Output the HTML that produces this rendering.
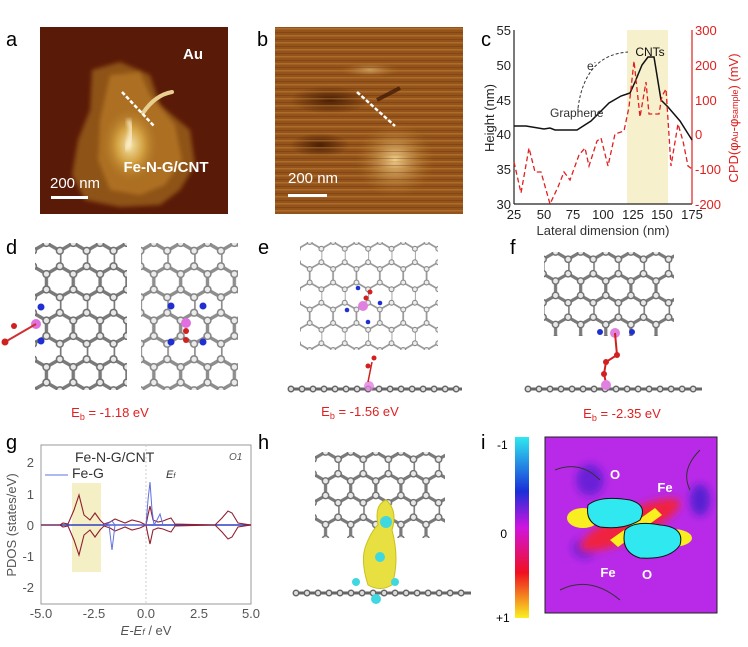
<!DOCTYPE html>
<html><head><meta charset="utf-8"><style>
body{margin:0;background:#fff;}
svg{display:block;font-family:"Liberation Sans",sans-serif;}
</style></head><body>
<svg width="748" height="647" viewBox="0 0 748 647" xmlns="http://www.w3.org/2000/svg">
<defs>
<pattern id="hc" width="17.32" height="30" patternUnits="userSpaceOnUse" patternTransform="translate(33,243) scale(1.55)">
<path d="M0,5 L8.66,0 L17.32,5 M0,5 L0,15 M0,15 L8.66,20 L17.32,15 M8.66,20 L8.66,30" stroke="#7a7a7a" stroke-width="2.2" fill="none"/>
<g fill="#e8e8e8" stroke="#707070" stroke-width="1"><circle cx="8.66" cy="0" r="2.2"/><circle cx="0" cy="5" r="2.2"/><circle cx="17.32" cy="5" r="2.2"/><circle cx="0" cy="15" r="2.2"/><circle cx="17.32" cy="15" r="2.2"/><circle cx="8.66" cy="20" r="2.2"/><circle cx="8.66" cy="30" r="2.2"/></g>
</pattern>
<pattern id="hc2" width="17.32" height="30" patternUnits="userSpaceOnUse" patternTransform="translate(543,252) scale(1.45)">
<path d="M0,5 L8.66,0 L17.32,5 M0,5 L0,15 M0,15 L8.66,20 L17.32,15 M8.66,20 L8.66,30" stroke="#7a7a7a" stroke-width="2.2" fill="none"/>
<g fill="#e8e8e8" stroke="#707070" stroke-width="1"><circle cx="8.66" cy="0" r="2.2"/><circle cx="0" cy="5" r="2.2"/><circle cx="17.32" cy="5" r="2.2"/><circle cx="0" cy="15" r="2.2"/><circle cx="17.32" cy="15" r="2.2"/><circle cx="8.66" cy="20" r="2.2"/><circle cx="8.66" cy="30" r="2.2"/></g>
</pattern>
<pattern id="hc3" width="17.32" height="30" patternUnits="userSpaceOnUse" patternTransform="translate(313,452) scale(1.45)">
<path d="M0,5 L8.66,0 L17.32,5 M0,5 L0,15 M0,15 L8.66,20 L17.32,15 M8.66,20 L8.66,30" stroke="#7a7a7a" stroke-width="2.2" fill="none"/>
<g fill="#e8e8e8" stroke="#707070" stroke-width="1"><circle cx="8.66" cy="0" r="2.2"/><circle cx="0" cy="5" r="2.2"/><circle cx="17.32" cy="5" r="2.2"/><circle cx="0" cy="15" r="2.2"/><circle cx="17.32" cy="15" r="2.2"/><circle cx="8.66" cy="20" r="2.2"/><circle cx="8.66" cy="30" r="2.2"/></g>
</pattern>
<pattern id="hcl" width="17.32" height="30" patternUnits="userSpaceOnUse" patternTransform="translate(298,242) scale(1.35)">
<path d="M0,5 L8.66,0 L17.32,5 M0,5 L0,15 M0,15 L8.66,20 L17.32,15 M8.66,20 L8.66,30" stroke="#999" stroke-width="1.3" fill="none"/>
<g fill="#eee" stroke="#888" stroke-width="0.8"><circle cx="8.66" cy="0" r="1.8"/><circle cx="0" cy="5" r="1.8"/><circle cx="17.32" cy="5" r="1.8"/><circle cx="0" cy="15" r="1.8"/><circle cx="17.32" cy="15" r="1.8"/><circle cx="8.66" cy="20" r="1.8"/><circle cx="8.66" cy="30" r="1.8"/></g>
</pattern>
<pattern id="lines" width="190" height="7" patternUnits="userSpaceOnUse">
<rect width="190" height="1.5" fill="#d09040" opacity="0.4"/><rect y="4" width="190" height="1" fill="#5a2a06" opacity="0.3"/>
</pattern>
<radialGradient id="ga" cx="0.5" cy="0.5" r="0.5"><stop offset="0" stop-color="#f4e2a8"/><stop offset="0.45" stop-color="#d2a040"/><stop offset="1" stop-color="#a86a20" stop-opacity="0"/></radialGradient>
<radialGradient id="gb" cx="0.5" cy="0.5" r="0.5"><stop offset="0" stop-color="#f0d090"/><stop offset="1" stop-color="#b07020" stop-opacity="0"/></radialGradient>
<radialGradient id="gd" cx="0.5" cy="0.5" r="0.5"><stop offset="0" stop-color="#4a1e04"/><stop offset="1" stop-color="#4a1e04" stop-opacity="0"/></radialGradient>
<linearGradient id="cb" x1="0" y1="0" x2="0" y2="1"><stop offset="0" stop-color="#2fe8f0"/><stop offset="0.3" stop-color="#1a2fd8"/><stop offset="0.5" stop-color="#d014e0"/><stop offset="0.75" stop-color="#f01020"/><stop offset="1" stop-color="#f8f020"/></linearGradient>
<filter id="bl"><feGaussianBlur stdDeviation="4"/></filter>
<filter id="bl2"><feGaussianBlur stdDeviation="2"/></filter>
</defs>

<!-- panel a -->
<text x="6" y="46" font-size="20">a</text>
<rect x="40" y="27" width="188" height="187" fill="#5a1a08"/>
<path d="M92,70 L120,62 L150,75 L160,105 L190,130 L195,165 L180,190 L160,205 L120,207 L85,200 L72,175 L78,140 L90,110 Z" fill="#8e5218" filter="url(#bl2)"/>
<path d="M110,75 L140,72 L150,95 L175,125 L182,160 L165,185 L140,195 L110,190 L98,160 L100,120 Z" fill="#ad7024" filter="url(#bl2)"/>
<ellipse cx="130" cy="145" rx="30" ry="40" fill="url(#ga)"/>
<path d="M126,150 Q135,130 128,120" stroke="#fff4d8" stroke-width="4" fill="none" filter="url(#bl2)"/>
<path d="M143,113 Q155,95 172,92" stroke="#e8cf90" stroke-width="4" fill="none" stroke-linecap="round"/>
<line x1="122" y1="92" x2="154" y2="126" stroke="#fff" stroke-width="2.5" stroke-dasharray="4,2"/>
<text x="193" y="59" font-size="15" font-weight="bold" fill="#fff" text-anchor="middle">Au</text>
<text x="166" y="172" font-size="15" font-weight="bold" fill="#fff" text-anchor="middle">Fe-N-G/CNT</text>
<text x="50" y="188" font-size="15" fill="#fff">200 nm</text>
<rect x="51" y="196" width="37" height="3" fill="#fff"/>

<!-- panel b -->
<text x="257" y="46" font-size="20">b</text>
<rect x="275" y="27" width="188" height="187" fill="#94531a"/>
<ellipse cx="330" cy="100" rx="40" ry="14" fill="url(#gd)"/>
<ellipse cx="320" cy="145" rx="30" ry="12" fill="url(#gd)"/>
<ellipse cx="395" cy="160" rx="40" ry="38" fill="url(#gb)"/>
<ellipse cx="370" cy="70" rx="30" ry="8" fill="url(#gb)" opacity="0.6"/>
<rect x="275" y="27" width="188" height="187" fill="url(#lines)"/>
<line x1="377" y1="100" x2="400" y2="88" stroke="#3a1404" stroke-width="4" opacity="0.7"/>
<line x1="357" y1="92" x2="395" y2="126" stroke="#fff" stroke-width="2.5" stroke-dasharray="4,2"/>
<text x="288" y="183" font-size="15" fill="#fff">200 nm</text>
<rect x="288" y="194" width="39" height="3" fill="#fff"/>

<!-- panel c -->
<text x="481" y="46" font-size="20">c</text>
<rect x="627" y="30" width="41" height="174" fill="#f6f0cc"/>
<line x1="514" y1="30" x2="514" y2="204" stroke="#222" stroke-width="1.2"/>
<line x1="514" y1="204" x2="692" y2="204" stroke="#222" stroke-width="1.2"/>
<line x1="692" y1="30" x2="692" y2="204" stroke="#e02020" stroke-width="1.2"/>
<g font-size="13" fill="#222" text-anchor="end">
<text x="511" y="35">55</text><text x="511" y="70">50</text><text x="511" y="105">45</text><text x="511" y="139">40</text><text x="511" y="174">35</text><text x="511" y="209">30</text>
</g>
<g font-size="13" fill="#e02020">
<text x="695" y="35">300</text><text x="695" y="70">200</text><text x="695" y="105">100</text><text x="695" y="139">0</text><text x="695" y="174">-100</text><text x="695" y="209">-200</text>
</g>
<g font-size="13" fill="#222" text-anchor="middle">
<text x="514" y="219">25</text><text x="544" y="219">50</text><text x="573" y="219">75</text><text x="603" y="219">100</text><text x="633" y="219">125</text><text x="662" y="219">150</text><text x="692" y="219">175</text>
</g>
<text x="603" y="235" font-size="13" fill="#333" text-anchor="middle">Lateral dimension (nm)</text>
<text transform="translate(494,118) rotate(-90)" font-size="13" fill="#222" text-anchor="middle">Height (nm)</text>
<text transform="translate(738,118) rotate(-90)" font-size="13" fill="#e02020" text-anchor="middle">CPD(φ<tspan font-size="9">Au</tspan>-φ<tspan font-size="9">sample</tspan>) (mV)</text>
<polyline fill="none" stroke="#111" stroke-width="1.5" points="514,126 526,126 544,129 550,128 555,130 577,130 591,121 603,109 609,103 621,96 630,93 635,82 642,65 648,57 654,57 661,100 668,107 680,121 692,140"/>
<polyline fill="none" stroke="#e02020" stroke-width="1.3" stroke-dasharray="5,3" points="514,162 521,193 529,148 535,172 541,172 550,204 558,187 564,172 570,180 579,155 585,148 589,166 597,141 601,138 608,166 615,134 624,131 629,107 634,61 640,117 646,82 649,114 654,114 659,114 662,96 666,89 671,166 678,124 683,141 688,166 692,169"/>
<path d="M578,108 Q585,55 628,52" fill="none" stroke="#333" stroke-width="1" stroke-dasharray="3,2"/>
<text x="587" y="70" font-size="12" fill="#333">e<tspan font-size="7" dy="-5">-</tspan></text>
<text x="650" y="56" font-size="12" fill="#111" text-anchor="middle">CNTs</text>
<text x="550" y="117" font-size="12" fill="#333">Graphene</text>

<!-- panel d -->
<text x="6" y="254" font-size="20">d</text>
<rect x="35" y="243" width="92" height="147" fill="url(#hc)"/>
<rect x="141" y="243" width="97" height="147" fill="url(#hc)" opacity="0.85"/>
<circle cx="36" cy="324" r="5" fill="#e070e0"/><circle cx="41" cy="307" r="3.5" fill="#2030d0"/><circle cx="41" cy="341" r="3.5" fill="#2030d0"/>
<line x1="36" y1="324" x2="5" y2="342" stroke="#d03030" stroke-width="2"/><circle cx="14" cy="326" r="3" fill="#d02020"/><circle cx="5" cy="342" r="3.5" fill="#d02020"/>
<circle cx="186" cy="323" r="5" fill="#e070e0"/><circle cx="171" cy="306" r="3.5" fill="#2030d0"/><circle cx="203" cy="306" r="3.5" fill="#2030d0"/><circle cx="171" cy="342" r="3.5" fill="#2030d0"/><circle cx="203" cy="342" r="3.5" fill="#2030d0"/>
<circle cx="186" cy="331" r="3" fill="#d02020"/><circle cx="186" cy="340" r="3" fill="#d02020"/>
<text x="110" y="417" font-size="13" fill="#e02020" text-anchor="middle">E<tspan font-size="9" dy="3">b</tspan><tspan dy="-3"> = -1.18 eV</tspan></text>

<!-- panel e -->
<text x="258" y="254" font-size="20">e</text>
<rect x="300" y="242" width="138" height="108" fill="url(#hcl)"/>
<circle cx="363" cy="306" r="5" fill="#e080e0"/><circle cx="366" cy="298" r="2.5" fill="#d02020"/><circle cx="370" cy="292" r="2.5" fill="#d02020"/>
<circle cx="358" cy="288" r="2.3" fill="#2030d0"/><circle cx="380" cy="303" r="2.3" fill="#2030d0"/><circle cx="347" cy="310" r="2.3" fill="#2030d0"/><circle cx="368" cy="322" r="2.3" fill="#2030d0"/>
<line x1="290" y1="389" x2="462" y2="389" stroke="#666" stroke-width="3"/>
<line x1="291" y1="389" x2="462" y2="389" stroke="#666" stroke-width="7" stroke-linecap="round" stroke-dasharray="0.01 11"/>
<line x1="291" y1="389" x2="462" y2="389" stroke="#ddd" stroke-width="4" stroke-linecap="round" stroke-dasharray="0.01 11"/>
<circle cx="369" cy="386" r="5" fill="#e080e0" opacity="0.8"/><line x1="368" y1="382" x2="372" y2="362" stroke="#d02020" stroke-width="1.5"/><circle cx="368" cy="366" r="2.5" fill="#d02020"/><circle cx="374" cy="358" r="2.5" fill="#d02020"/>
<text x="360" y="416" font-size="13" fill="#e02020" text-anchor="middle">E<tspan font-size="9" dy="3">b</tspan><tspan dy="-3"> = -1.56 eV</tspan></text>

<!-- panel f -->
<text x="510" y="254" font-size="20">f</text>
<rect x="544" y="252" width="130" height="84" fill="url(#hc2)"/>
<circle cx="615" cy="333" r="5" fill="#e080e0"/><circle cx="600" cy="332" r="3" fill="#2030d0"/><circle cx="632" cy="332" r="3" fill="#2030d0"/>
<polyline points="615,333 617,355 606,362 604,374 606,383" fill="none" stroke="#d02020" stroke-width="2"/>
<circle cx="617" cy="355" r="3" fill="#d02020"/><circle cx="606" cy="362" r="3" fill="#d02020"/><circle cx="604" cy="374" r="3" fill="#d02020"/>
<line x1="527" y1="389" x2="702" y2="389" stroke="#666" stroke-width="3"/>
<line x1="528" y1="389" x2="702" y2="389" stroke="#666" stroke-width="7" stroke-linecap="round" stroke-dasharray="0.01 11"/>
<line x1="528" y1="389" x2="702" y2="389" stroke="#ddd" stroke-width="4" stroke-linecap="round" stroke-dasharray="0.01 11"/>
<circle cx="606" cy="385" r="5" fill="#e080e0"/>
<text x="622" y="418" font-size="13" fill="#e02020" text-anchor="middle">E<tspan font-size="9" dy="3">b</tspan><tspan dy="-3"> = -2.35 eV</tspan></text>

<!-- panel g -->
<text x="6" y="449" font-size="20">g</text>
<rect x="72" y="483" width="29" height="89" fill="#f4efc4"/>
<rect x="41" y="445" width="210" height="159" fill="none" stroke="#999" stroke-width="1"/>
<line x1="146" y1="445" x2="146" y2="604" stroke="#ccc" stroke-dasharray="2,2"/>
<g font-size="13" fill="#555" text-anchor="end">
<text x="34" y="467">2</text><text x="34" y="499">1</text><text x="34" y="530">0</text><text x="34" y="561">-1</text><text x="34" y="592">-2</text>
</g>
<g font-size="13" fill="#555" text-anchor="middle">
<text x="41" y="618">-5.0</text><text x="94" y="618">-2.5</text><text x="146" y="618">0.0</text><text x="199" y="618">2.5</text><text x="251" y="618">5.0</text>
</g>
<text x="146" y="635" font-size="13" fill="#555" text-anchor="middle"><tspan font-style="italic">E-E</tspan><tspan font-size="9" font-style="italic">f</tspan> / eV</text>
<text transform="translate(16,525) rotate(-90)" font-size="13" fill="#555" text-anchor="middle">PDOS (states/eV)</text>
<line x1="41" y1="525" x2="251" y2="525" stroke="#3040c0" stroke-width="1.5"/>
<polyline fill="none" stroke="#902030" stroke-width="1.1" points="41,525 60,525 63,523 68,524 74,510 79,495 84,515 90,520 95,513 100,520 104,524 110,522 115,519 125,523 132,520 140,522 146,525 148,515 150,506 153,520 158,522 163,521 168,519 171,518 175,524 215,525 222,518 228,511 232,513 238,523 251,525"/>
<polyline fill="none" stroke="#902030" stroke-width="1.1" points="41,525 60,525 63,527 68,526 74,540 79,555 84,535 90,530 95,537 100,530 104,526 110,528 115,531 125,527 132,530 140,528 146,525 148,535 150,544 153,530 158,528 163,529 168,531 171,532 175,526 215,525 222,532 228,539 232,537 238,527 251,525"/>
<polyline fill="none" stroke="#6070e0" stroke-width="1" points="104,525 109,523 112,521 115,525 112,550 109,525 146,525 148,500 150,482 152,510 154,525 157,520 160,514 163,525"/>
<line x1="45" y1="475" x2="68" y2="475" stroke="#6070e0"/>
<text x="75" y="462" font-size="14" fill="#333">Fe-N-G/CNT</text>
<text x="72" y="478" font-size="14" fill="#333">Fe-G</text>
<text x="166" y="478" font-size="11" font-style="italic" fill="#333">E<tspan font-size="7">f</tspan></text>
<text x="229" y="460" font-size="10" font-style="italic" fill="#555">O1</text>

<!-- panel h -->
<text x="258" y="449" font-size="20">h</text>
<rect x="315" y="452" width="130" height="86" fill="url(#hc3)"/>
<path d="M368,585 Q360,560 366,545 Q372,530 378,525 Q374,505 386,500 Q398,510 392,530 Q400,560 392,585 Q380,592 368,585 Z" fill="#e8e040" stroke="#c8c020"/>
<circle cx="386" cy="522" r="6" fill="#40d8e0"/><circle cx="380" cy="557" r="5" fill="#40d8e0"/><circle cx="356" cy="582" r="4" fill="#40d8e0"/><circle cx="395" cy="582" r="4" fill="#40d8e0"/>
<line x1="295" y1="593" x2="471" y2="593" stroke="#666" stroke-width="3"/>
<line x1="296" y1="593" x2="471" y2="593" stroke="#666" stroke-width="7" stroke-linecap="round" stroke-dasharray="0.01 11"/>
<line x1="296" y1="593" x2="471" y2="593" stroke="#ddd" stroke-width="4" stroke-linecap="round" stroke-dasharray="0.01 11"/>
<circle cx="376" cy="599" r="5" fill="#40d8e0"/>

<!-- panel i -->
<text x="481" y="449" font-size="20">i</text>
<rect x="515" y="437" width="14" height="181" fill="url(#cb)"/>
<text x="497" y="449" font-size="12">-1</text>
<text x="507" y="538" font-size="12" text-anchor="end">0</text>
<text x="496" y="622" font-size="12">+1</text>
<rect x="545" y="437" width="172" height="176" fill="#b82ae8" stroke="#222"/>
<g filter="url(#bl)">
<ellipse cx="590" cy="480" rx="14" ry="16" fill="#4a20d0" opacity="0.7"/>
<ellipse cx="700" cy="500" rx="10" ry="16" fill="#3020c8" opacity="0.7"/>
<ellipse cx="585" cy="548" rx="12" ry="10" fill="#3020c8" opacity="0.7"/>
<ellipse cx="630" cy="525" rx="55" ry="14" fill="#f02040" transform="rotate(-25 630 525)"/>
</g>
<ellipse cx="583" cy="518" rx="16" ry="10" fill="#f8ee20"/>
<ellipse cx="672" cy="538" rx="20" ry="9" fill="#f8ee20"/>
<path d="M610,540 L655,508 L662,515 L618,547 Z" fill="#f8ee20"/>
<path d="M588,505 Q600,495 630,500 Q648,505 640,520 Q625,530 600,527 Q585,522 588,505 Z" fill="#30e8f0" stroke="#111"/>
<path d="M625,530 Q635,520 660,525 Q685,527 680,545 Q670,560 640,558 Q620,552 625,530 Z" fill="#30e8f0" stroke="#111"/>
<path d="M555,470 Q580,460 600,480 M700,450 Q680,470 690,490 M560,590 Q590,575 620,600" fill="none" stroke="#333" stroke-width="1"/>
<text x="615" y="479" font-size="13" font-weight="bold" fill="#fff" text-anchor="middle">O</text>
<text x="665" y="492" font-size="13" font-weight="bold" fill="#fff" text-anchor="middle">Fe</text>
<text x="608" y="577" font-size="13" font-weight="bold" fill="#fff" text-anchor="middle">Fe</text>
<text x="647" y="579" font-size="13" font-weight="bold" fill="#fff" text-anchor="middle">O</text>
</svg>
</body></html>
